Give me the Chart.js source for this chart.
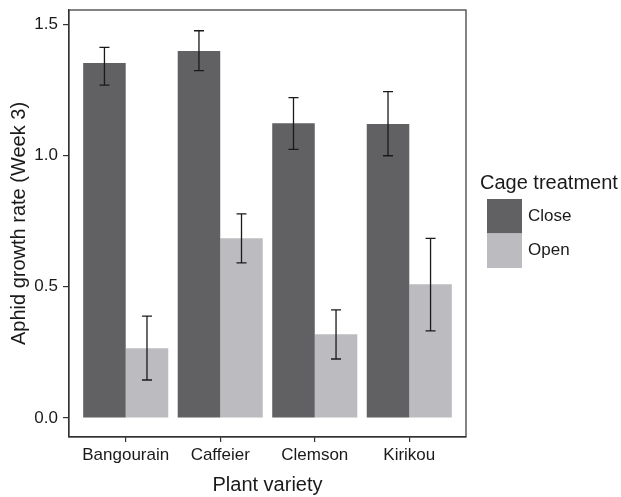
<!DOCTYPE html>
<html>
<head>
<meta charset="utf-8">
<script src="https://cdn.jsdelivr.net/npm/chart.js@4"></script>
<style>
  body { margin: 0; background: #fff; }
  #wrap { width: 621px; height: 497px; }
</style>
</head>
<body>
<div id="wrap"><canvas id="aphidChart" width="621" height="497"></canvas></div>
<script>
const categories = ['Bangourain', 'Caffeier', 'Clemson', 'Kirikou'];
const seriesNames = ['Close', 'Open'];

const closeMeans = [1.352, 1.398, 1.123, 1.120];
const closeLow = [1.268, 1.323, 1.023, 0.999];
const closeHigh = [1.412, 1.475, 1.220, 1.243];

const openMeans = [0.266, 0.685, 0.319, 0.510];
const openLow = [0.145, 0.591, 0.225, 0.332];
const openHigh = [0.388, 0.778, 0.412, 0.684];

const yTicks = [0, 0.5, 1.0, 1.5];

const textColor = '#1a1a1a';
const lineColor = '#333333';
const barColors = ['#616163', '#bcbcc0'];
const fontFamily = '"Liberation Sans", Arial, sans-serif';

function points(values) {
    return values.map(function (v, i) {
        return {x: i, y: v};
    });
}

// error bars on top of the bars
const errorBars = {
    id: 'errorBars',
    afterDatasetsDraw: function (chart) {
        const ctx = chart.ctx;
        const yScale = chart.scales.y;
        ctx.save();
        ctx.strokeStyle = textColor;
        ctx.lineWidth = 1.3;
        chart.data.datasets.forEach(function (ds, di) {
            const meta = chart.getDatasetMeta(di);
            meta.data.forEach(function (bar, i) {
                const x = bar.x;
                const yl = yScale.getPixelForValue(ds.errLow[i]);
                const yh = yScale.getPixelForValue(ds.errHigh[i]);
                ctx.beginPath();
                ctx.moveTo(x, yl);
                ctx.lineTo(x, yh);
                ctx.moveTo(x - 5, yl);
                ctx.lineTo(x + 5, yl);
                ctx.moveTo(x - 5, yh);
                ctx.lineTo(x + 5, yh);
                ctx.stroke();
            });
        });
        ctx.restore();
    }
};

// panel border and the legend on the right
const panelAndLegend = {
    id: 'panelAndLegend',
    afterDraw: function (chart) {
        const ctx = chart.ctx;
        const a = chart.chartArea;
        ctx.save();
        ctx.strokeStyle = lineColor;
        ctx.lineWidth = 1.2;
        ctx.strokeRect(a.left, a.top, a.right - a.left, a.bottom - a.top);

        ctx.fillStyle = textColor;
        ctx.textBaseline = 'middle';
        ctx.textAlign = 'left';
        ctx.font = '20px ' + fontFamily;
        ctx.fillText('Cage treatment', 480, 183);

        ctx.font = '17px ' + fontFamily;
        chart.data.datasets.forEach(function (ds, i) {
            const top = 199 + i * 34.5;
            ctx.fillStyle = ds.backgroundColor;
            ctx.fillRect(487, top, 35, 34.5);
            ctx.fillStyle = textColor;
            ctx.fillText(ds.label, 528, top + 17);
        });
        ctx.restore();
    }
};

new Chart(document.getElementById('aphidChart'), {
    type: 'bar',
    data: {
        datasets: [
            {
                label: seriesNames[0],
                data: points(closeMeans),
                errLow: closeLow,
                errHigh: closeHigh,
                backgroundColor: barColors[0]
            },
            {
                label: seriesNames[1],
                data: points(openMeans),
                errLow: openLow,
                errHigh: openHigh,
                backgroundColor: barColors[1]
            }
        ]
    },
    options: {
        responsive: false,
        animation: false,
        layout: {padding: {top: 10, right: 155, bottom: 0, left: 0}},
        datasets: {bar: {categoryPercentage: 0.9, barPercentage: 1.0}},
        plugins: {
            legend: {display: false},
            tooltip: {enabled: false}
        },
        scales: {
            x: {
                type: 'linear',
                min: -0.6,
                max: 3.6,
                offset: false,
                afterBuildTicks: function (scale) {
                    scale.ticks = categories.map(function (c, i) {
                        return {value: i};
                    });
                },
                afterFit: function (scale) {
                    scale.height = 60;
                    scale.paddingLeft = 0;
                    scale.paddingRight = 0;
                },
                ticks: {
                    color: textColor,
                    padding: 3,
                    font: {family: fontFamily, size: 17},
                    callback: function (v) {
                        return categories[v];
                    }
                },
                grid: {display: true, offset: false, drawOnChartArea: false, drawTicks: true, tickLength: 5, color: lineColor, lineWidth: 1.2},
                border: {display: true, color: lineColor, width: 1.2},
                title: {
                    display: true,
                    text: 'Plant variety',
                    color: textColor,
                    padding: {top: 0, bottom: 0},
                    font: {family: fontFamily, size: 20}
                }
            },
            y: {
                min: -0.072,
                max: 1.554,
                afterBuildTicks: function (scale) {
                    scale.ticks = yTicks.map(function (v) {
                        return {value: v};
                    });
                },
                afterFit: function (scale) {
                    scale.width = 69;
                    scale.paddingTop = 0;
                    scale.paddingBottom = 0;
                },
                ticks: {
                    color: textColor,
                    padding: 5,
                    font: {family: fontFamily, size: 17},
                    callback: function (v) {
                        return Number(v).toFixed(1);
                    }
                },
                grid: {display: true, drawOnChartArea: false, drawTicks: true, tickLength: 6, color: lineColor, lineWidth: 1.2},
                border: {display: true, color: lineColor, width: 1.2},
                title: {
                    display: true,
                    text: 'Aphid growth rate (Week 3)',
                    color: textColor,
                    padding: {top: 7, bottom: 0},
                    font: {family: fontFamily, size: 20}
                }
            }
        }
    },
    plugins: [errorBars, panelAndLegend]
});
</script>
</body>
</html>
